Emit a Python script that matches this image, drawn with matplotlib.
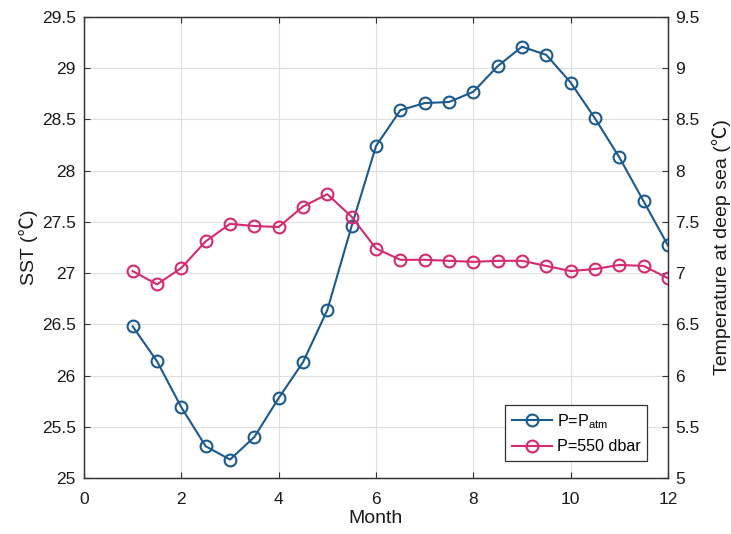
import matplotlib
matplotlib.use("Agg")
import matplotlib.pyplot as plt

plt.rcParams['font.family'] = ['Liberation Sans', 'Noto Sans CJK SC', 'DejaVu Sans']
plt.rcParams['mathtext.fontset'] = 'custom'
plt.rcParams['mathtext.rm'] = 'Liberation Sans'

months = [1, 1.5, 2, 2.5, 3, 3.5, 4, 4.5, 5, 5.5, 6, 6.5, 7, 7.5, 8, 8.5, 9, 9.5, 10, 10.5, 11, 11.5, 12]
sst = [26.48, 26.14, 25.69, 25.31, 25.18, 25.40, 25.78, 26.13, 26.64, 27.46, 28.24, 28.59, 28.66, 28.67,
       28.77, 29.02, 29.21, 29.13, 28.86, 28.51, 28.13, 27.70, 27.27]
deep = [7.02, 6.89, 7.05, 7.31, 7.48, 7.46, 7.45, 7.65, 7.77, 7.55, 7.24, 7.13, 7.13, 7.12,
        7.11, 7.12, 7.12, 7.07, 7.02, 7.04, 7.08, 7.07, 6.95]
left_ticks = ['25', '25.5', '26', '26.5', '27', '27.5', '28', '28.5', '29', '29.5']
right_ticks = ['5', '5.5', '6', '6.5', '7', '7.5', '8', '8.5', '9', '9.5']

blue = '#1b5a8e'
pink = '#d42a72'

fig = plt.figure(figsize=(7.31, 5.34), dpi=100)
ax = fig.add_axes([84 / 731, (534 - 478) / 534, 584 / 731, 461 / 534])
ax2 = ax.twinx()

l1, = ax.plot(months, sst, '-o', color=blue, mfc='none', ms=8.5, mew=1.5, lw=1.5,
              label='P=P$_{\\mathregular{atm}}$')
l2, = ax2.plot(months, deep, '-o', color=pink, mfc='none', ms=8.5, mew=1.5, lw=1.5,
               label='P=550 dbar')

ax.set_xlim(0, 12)
ax.set_ylim(25, 29.5)
ax2.set_ylim(5, 9.5)
ax.set_xticks(range(0, 13, 2))
ax.set_yticks([float(t) for t in left_ticks])
ax.set_yticklabels(left_ticks)
ax2.set_yticks([float(t) for t in right_ticks])
ax2.set_yticklabels(right_ticks)

ax.grid(True, color='#dedede', lw=0.8)
ax.set_axisbelow(True)
for a in (ax, ax2):
    a.tick_params(direction='in', labelsize=12.5, length=4, color='#333333', labelcolor='#1a1a1a')
    for s in a.spines.values():
        s.set_color('#333333')
        s.set_linewidth(0.9)
ax.tick_params(top=True)
ax.tick_params(axis='y', pad=6)
ax.tick_params(axis='x', pad=10)
ax2.tick_params(axis='y', pad=5)

ax.set_xlabel('Month', fontsize=14, color='#1a1a1a', labelpad=2)
ax.set_ylabel('SST (℃)', fontsize=14, color='#1a1a1a', labelpad=3)
ax2.set_ylabel('Temperature at deep sea (℃)', fontsize=14, color='#1a1a1a', labelpad=9)

leg = ax2.legend(handles=[l1, l2], loc='lower right', bbox_to_anchor=(0.964, 0.037), fontsize=11.6,
                 fancybox=False, edgecolor='#333333', framealpha=1, handlelength=2.5,
                 borderpad=0.4, labelspacing=0.55, handletextpad=0.3, borderaxespad=0)
leg.get_frame().set_linewidth(0.9)

fig.savefig('out.png', dpi=100)
